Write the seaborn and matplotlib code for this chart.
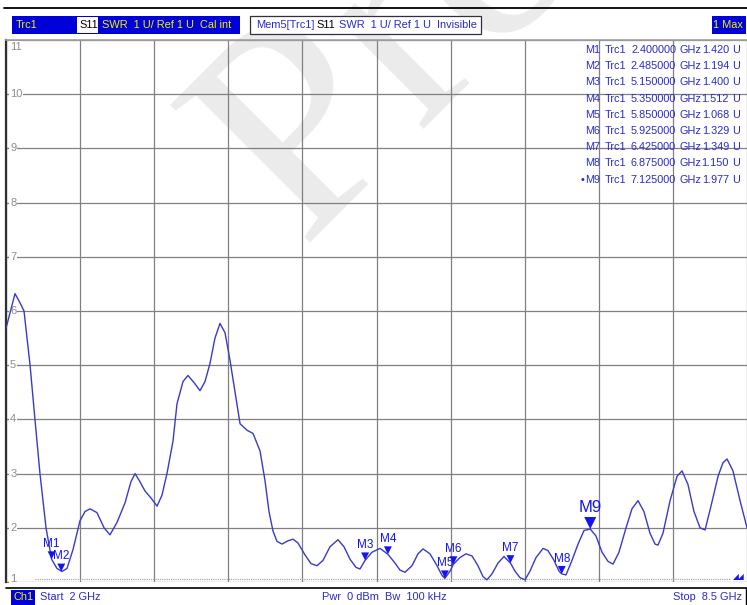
import numpy as np
import matplotlib.pyplot as plt
import seaborn as sns
from matplotlib.patches import Rectangle
from matplotlib.path import Path
from matplotlib.lines import Line2D

# --- data ---
start_ghz = 2.0
stop_ghz = 8.5

freq_ghz = [
    2.000, 2.079, 2.123, 2.158, 2.211, 2.254, 2.298, 2.351, 2.400, 2.447,
    2.491, 2.535, 2.588, 2.649, 2.693, 2.737, 2.798, 2.860, 2.912, 2.974,
    3.044, 3.096, 3.132, 3.175, 3.219, 3.272, 3.325, 3.368, 3.412, 3.465,
    3.500, 3.553, 3.596, 3.649, 3.702, 3.746, 3.789, 3.833, 3.877, 3.921,
    3.965, 4.009, 4.053, 4.114, 4.167, 4.228, 4.272, 4.307, 4.342, 4.377,
    4.421, 4.474, 4.518, 4.561, 4.623, 4.675, 4.728, 4.781, 4.842, 4.912,
    4.965, 5.018, 5.070, 5.105, 5.150, 5.211, 5.281, 5.350, 5.412, 5.456,
    5.500, 5.561, 5.614, 5.658, 5.719, 5.781, 5.825, 5.850, 5.895, 5.925,
    5.982, 6.035, 6.088, 6.140, 6.184, 6.219, 6.263, 6.316, 6.368, 6.425,
    6.465, 6.509, 6.553, 6.596, 6.649, 6.711, 6.754, 6.807, 6.851, 6.875,
    6.912, 6.965, 7.018, 7.070, 7.125, 7.175, 7.228, 7.281, 7.325, 7.377,
    7.439, 7.491, 7.544, 7.596, 7.649, 7.693, 7.719, 7.763, 7.825, 7.886,
    7.930, 7.982, 8.035, 8.088, 8.132, 8.184, 8.246, 8.289, 8.325, 8.377,
    8.439, 8.500,
]
swr = [
    5.68, 6.32, 6.15, 6.00, 5.00, 4.00, 3.00, 2.00, 1.42, 1.25,
    1.194, 1.25, 1.60, 2.13, 2.30, 2.35, 2.28, 2.00, 1.87, 2.10,
    2.46, 2.85, 3.00, 2.85, 2.68, 2.55, 2.40, 2.60, 3.00, 3.60,
    4.29, 4.70, 4.81, 4.68, 4.53, 4.70, 5.03, 5.50, 5.77, 5.60,
    5.09, 4.50, 3.92, 3.80, 3.74, 3.42, 2.87, 2.30, 1.94, 1.75,
    1.70, 1.76, 1.79, 1.72, 1.50, 1.34, 1.30, 1.40, 1.65, 1.78,
    1.65, 1.42, 1.27, 1.24, 1.40, 1.55, 1.62, 1.512, 1.35, 1.22,
    1.18, 1.30, 1.52, 1.61, 1.52, 1.30, 1.12, 1.068, 1.20, 1.329,
    1.45, 1.52, 1.48, 1.30, 1.10, 1.04, 1.15, 1.35, 1.47, 1.349,
    1.20, 1.08, 1.04, 1.20, 1.45, 1.62, 1.58, 1.40, 1.20, 1.15,
    1.13, 1.40, 1.70, 1.95, 1.977, 1.85, 1.55, 1.38, 1.33, 1.55,
    2.00, 2.35, 2.50, 2.30, 1.90, 1.70, 1.68, 1.90, 2.50, 2.95,
    3.05, 2.80, 2.30, 2.00, 1.96, 2.40, 2.95, 3.20, 3.27, 3.05,
    2.50, 2.00,
]

marker_names = ["M1", "M2", "M3", "M4", "M5", "M6", "M7", "M8", "M9"]
marker_freq = [2.400, 2.485, 5.150, 5.350, 5.850, 5.925, 6.425, 6.875, 7.125]
marker_swr = [1.420, 1.194, 1.400, 1.512, 1.068, 1.329, 1.349, 1.150, 1.977]
active_marker = "M9"

y_levels = [1, 2, 3, 4, 5, 6, 7, 8, 9, 10, 11]

# --- colours ---
BLUE_BOX = "#0000d8"
YELLOW = "#f2f200"
TRACE = "#3a3ac8"
MK_BLUE = "#1414f0"
TXT_BLUE = "#2a2ac8"
GRID = "#808080"

W, H = 747, 605


def fx(px):
    return px / W


def fy(py):
    return 1 - py / H


sns.set_style("white")
plt.rcParams["font.family"] = ["Liberation Sans", "DejaVu Sans"]

fig = plt.figure(figsize=(W / 100, H / 100), dpi=100)
fig.patch.set_facecolor("white")

ax = fig.add_axes([fx(6), fy(582), fx(747) - fx(6), fy(40) - fy(582)])
ax.set_facecolor("none")

# watermark behind everything
fig.text(fx(300), fy(244), "Pro", rotation=45, rotation_mode="anchor",
         ha="left", va="baseline", fontsize=215, color="#ebebeb",
         family="Liberation Serif", zorder=-5)

# trace
sns.lineplot(x=freq_ghz, y=swr, ax=ax, color=TRACE, lw=1.0,
             sort=False, estimator=None, zorder=3)

# marker triangles (tip sits on the trace point)
tri = Path([(-0.5, 1.0), (0.5, 1.0), (0.0, 0.0), (-0.5, 1.0)],
           [Path.MOVETO, Path.LINETO, Path.LINETO, Path.CLOSEPOLY])
is_act = [n == active_marker for n in marker_names]
small_f = [f for f, a in zip(marker_freq, is_act) if not a]
small_v = [v for v, a in zip(marker_swr, is_act) if not a]
big_f = [f for f, a in zip(marker_freq, is_act) if a]
big_v = [v for v, a in zip(marker_swr, is_act) if a]
sns.scatterplot(x=small_f, y=small_v, ax=ax, marker=tri, s=130,
                color=MK_BLUE, edgecolor="none", zorder=4)
sns.scatterplot(x=big_f, y=big_v, ax=ax, marker=tri, s=300,
                color=MK_BLUE, edgecolor="none", zorder=4)

for name, f, v, a in zip(marker_names, marker_freq, marker_swr, is_act):
    ax.annotate(name, (f, v), xytext=(0, 10 if a else 6.5),
                textcoords="offset points", ha="center", va="bottom",
                color=MK_BLUE, fontsize=12 if a else 8.5, zorder=5)

# axes, grid
ax.set_xlim(start_ghz, stop_ghz)
ax.set_ylim(y_levels[0], y_levels[-1])
ax.set_xticks(np.linspace(start_ghz, stop_ghz, 11))
ax.set_yticks(y_levels)
ax.grid(True, color=GRID, lw=0.9)
ax.tick_params(axis="both", labelleft=False, labelbottom=False)
ax.tick_params(axis="y", direction="in", length=3, color=GRID, left=True)
ax.tick_params(axis="x", length=0)
for side in ["right", "bottom"]:
    ax.spines[side].set_visible(False)
ax.spines["top"].set_color("#a0a0a0")
ax.spines["top"].set_linewidth(1.2)
ax.spines["left"].set_color("#303030")
ax.spines["left"].set_linewidth(1.6)

# y labels drawn inside the grid, under the trace
ytrans = ax.get_yaxis_transform()
for lv in y_levels:
    yy = lv
    if lv == y_levels[-1]:
        yy = lv - 0.13
    elif lv == y_levels[0]:
        yy = lv + 0.05
    ax.text(0.0055, yy, str(lv), transform=ytrans, ha="left", va="center",
            fontsize=8, color="#8c8c8c", zorder=2,
            bbox=dict(facecolor="white", edgecolor="none", pad=0.6))

# reference line at the bottom
ax.plot([2.25, 8.35], [1.05, 1.05], ls=(0, (1, 1)), color="#9a9a9a", lw=0.8)
fig.text(fx(733), fy(581), "\u25e2\u25e2", color=MK_BLUE, fontsize=5.5,
         family="DejaVu Sans", ha="left", va="bottom")

# marker readout table
row_y0, row_dy = 50, 16.2
for i, (name, f, v) in enumerate(zip(marker_names, marker_freq, marker_swr)):
    yy = fy(row_y0 + i * row_dy)
    kw = dict(color=TXT_BLUE, fontsize=7.8, va="center")
    if name == active_marker:
        fig.text(fx(581), yy, "\u2022", ha="left", **kw)
    fig.text(fx(600), yy, name, ha="right", **kw)
    fig.text(fx(605), yy, "Trc1", ha="left", **kw)
    fig.text(fx(676), yy, f"{f:.6f}", ha="right", **kw)
    fig.text(fx(679), yy, "GHz", ha="left", **kw)
    fig.text(fx(729), yy, f"{v:.3f}", ha="right", **kw)
    fig.text(fx(732), yy, "U", ha="left", **kw)

# header bar
fig.add_artist(Line2D([fx(4), fx(747)], [fy(8), fy(8)], color="black", lw=1.3))


def box(x0, y0, x1, y1, fc, ec="none", lw=0.0):
    fig.add_artist(Rectangle((fx(x0), fy(y1)), fx(x1) - fx(x0), fy(y0) - fy(y1),
                             facecolor=fc, edgecolor=ec, lw=lw))


hy = fy(25)
hfs = 7.9
box(12, 16, 240, 34, BLUE_BOX)
box(77, 17, 98, 33, "white")
fig.text(fx(16), hy, "Trc1", color=YELLOW, fontsize=hfs, va="center")
fig.text(fx(79), hy, "S11", color="black", fontsize=hfs, va="center")
fig.text(fx(102), hy, "SWR  1 U/ Ref 1 U  Cal int", color=YELLOW,
         fontsize=hfs, va="center")

box(250, 16, 481, 34, "white", ec="#303040", lw=0.9)
fig.text(fx(256), hy, "Mem5[Trc1]", color=TXT_BLUE, fontsize=hfs, va="center")
fig.text(fx(316), hy, "S11", color="black", fontsize=hfs, va="center")
fig.text(fx(339), hy, "SWR  1 U/ Ref 1 U  Invisible", color=TXT_BLUE,
         fontsize=hfs, va="center")

box(712, 16, 746, 34, BLUE_BOX)
fig.text(fx(743), hy, "1 Max", color=YELLOW, fontsize=hfs, va="center", ha="right")

# bottom status bar
fig.add_artist(Line2D([fx(6), fx(747)], [fy(587.5), fy(587.5)], color="black", lw=1.2))
fig.add_artist(Line2D([fx(745.5), fx(745.5)], [fy(587.5), fy(605)], color="black", lw=1.0))
by = fy(597)
box(11, 590, 35, 605, BLUE_BOX)
fig.text(fx(13), by, "Ch1", color=YELLOW, fontsize=hfs, va="center")
fig.text(fx(40), by, f"Start  {start_ghz:g} GHz", color=TXT_BLUE, fontsize=hfs, va="center")
fig.text(fx(322), by, "Pwr  0 dBm  Bw  100 kHz", color=TXT_BLUE, fontsize=hfs, va="center")
fig.text(fx(742), by, f"Stop  {stop_ghz:g} GHz", color=TXT_BLUE, fontsize=hfs,
         va="center", ha="right")

fig.savefig("out.png", dpi=100)
